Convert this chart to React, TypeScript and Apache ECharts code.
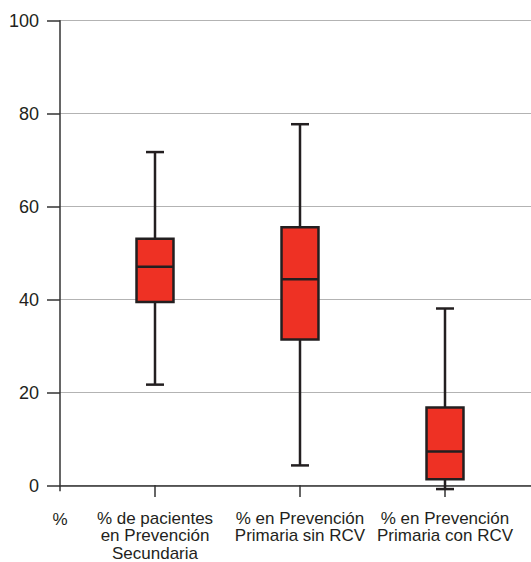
import React, { useEffect, useRef } from "react";
import * as echarts from "echarts";

const categories = [
  "% de pacientes\nen Prevención\nSecundaria",
  "% en Prevención\nPrimaria sin RCV",
  "% en Prevención\nPrimaria con RCV",
];
const lowWhisker = [21.6, 4.2, -0.9];
const q1 = [39.4, 31.3, 1.2];
const median = [47.0, 44.3, 7.2];
const q3 = [53.0, 55.5, 16.7];
const highWhisker = [71.7, 77.7, 38.0];
const yMin = 0;
const yMax = 100;
const yInterval = 20;

const FONT = "'Liberation Sans', Arial, Helvetica, sans-serif";
const DARK = "#231f20";
const RED = "#ee3124";

export default function App() {
  const ref = useRef<HTMLDivElement>(null);
  useEffect(() => {
    if (!ref.current) return;
    const chart = echarts.init(ref.current, undefined, { renderer: "svg" });
    const data = categories.map((_, i) => [
      i,
      lowWhisker[i],
      q1[i],
      median[i],
      q3[i],
      highWhisker[i],
    ]);
    const top = 20.7;
    const height = 465;
    const axisOffset = 5.6;
    chart.setOption({
      animation: false,
      textStyle: { fontFamily: FONT },
      grid: [
        { left: 60, right: 0, top, height },
        { left: 82.5, width: 435, top, height },
      ],
      xAxis: [
        {
          gridIndex: 0,
          type: "value",
          min: 0,
          max: 1,
          offset: axisOffset,
          axisLine: { show: true, lineStyle: { color: "#333", width: 1.5 } },
          axisTick: { show: false },
          axisLabel: { show: false },
          splitLine: { show: false },
        },
        {
          gridIndex: 1,
          type: "category",
          data: categories,
          offset: axisOffset,
          axisLine: { show: false },
          axisTick: {
            show: true,
            alignWithLabel: true,
            length: 12,
            lineStyle: { color: "#333", width: 1.5 },
          },
          axisLabel: {
            margin: 19,
            fontSize: 17,
            lineHeight: 17.5,
            color: DARK,
            fontFamily: FONT,
            interval: 0,
          },
          splitLine: { show: false },
        },
      ],
      yAxis: [
        {
          gridIndex: 0,
          type: "value",
          min: yMin,
          max: yMax,
          interval: yInterval,
          axisLine: { show: true, lineStyle: { color: "#333", width: 1.5 } },
          axisTick: {
            show: true,
            inside: false,
            length: 13,
            lineStyle: { color: "#333", width: 1.5 },
          },
          axisLabel: { margin: 21, fontSize: 18, color: DARK, fontFamily: FONT },
          splitLine: { show: true, lineStyle: { color: "#b3b3b3", width: 1 } },
        },
        {
          gridIndex: 1,
          type: "value",
          min: yMin,
          max: yMax,
          interval: yInterval,
          show: false,
        },
      ],
      graphic: [
        {
          type: "line",
          shape: { x1: 60, y1: top + height, x2: 60, y2: top + height + axisOffset },
          style: { stroke: "#333", lineWidth: 1.5 },
        },
        {
          type: "text",
          x: 60,
          y: top + height + axisOffset + 19,
          style: {
            text: "%",
            fill: DARK,
            font: `17px ${FONT}`,
            textAlign: "center",
            textVerticalAlign: "top",
            lineHeight: 17.5,
          },
        },
      ],
      series: [
        {
          type: "custom",
          xAxisIndex: 1,
          yAxisIndex: 1,
          data,
          encode: { x: 0, y: [1, 2, 3, 4, 5] },
          renderItem: (params: any, api: any) => {
            const i = api.value(0);
            const band = api.size([1, 0])[0];
            const bw = band * 0.255;
            const cw = band * 0.124;
            const pLow = api.coord([i, api.value(1)]);
            const pQ1 = api.coord([i, api.value(2)]);
            const pMed = api.coord([i, api.value(3)]);
            const pQ3 = api.coord([i, api.value(4)]);
            const pHigh = api.coord([i, api.value(5)]);
            const cx = pMed[0];
            const lineStyle = { stroke: DARK, lineWidth: 2.5, fill: null };
            return {
              type: "group",
              children: [
                { type: "line", shape: { x1: cx, y1: pQ3[1], x2: cx, y2: pHigh[1] }, style: lineStyle },
                { type: "line", shape: { x1: cx, y1: pQ1[1], x2: cx, y2: pLow[1] }, style: lineStyle },
                { type: "line", shape: { x1: cx - cw / 2, y1: pHigh[1], x2: cx + cw / 2, y2: pHigh[1] }, style: lineStyle },
                { type: "line", shape: { x1: cx - cw / 2, y1: pLow[1], x2: cx + cw / 2, y2: pLow[1] }, style: lineStyle },
                {
                  type: "rect",
                  shape: { x: cx - bw / 2, y: pQ3[1], width: bw, height: pQ1[1] - pQ3[1] },
                  style: { fill: RED, stroke: DARK, lineWidth: 2.5 },
                },
                { type: "line", shape: { x1: cx - bw / 2, y1: pMed[1], x2: cx + bw / 2, y2: pMed[1] }, style: lineStyle },
              ],
            };
          },
        },
      ],
    });
    return () => chart.dispose();
  }, []);
  return (
    <div
      ref={ref}
      style={{ position: "fixed", left: 0, top: 0, width: 531, height: 562, background: "#fff" }}
    />
  );
}
